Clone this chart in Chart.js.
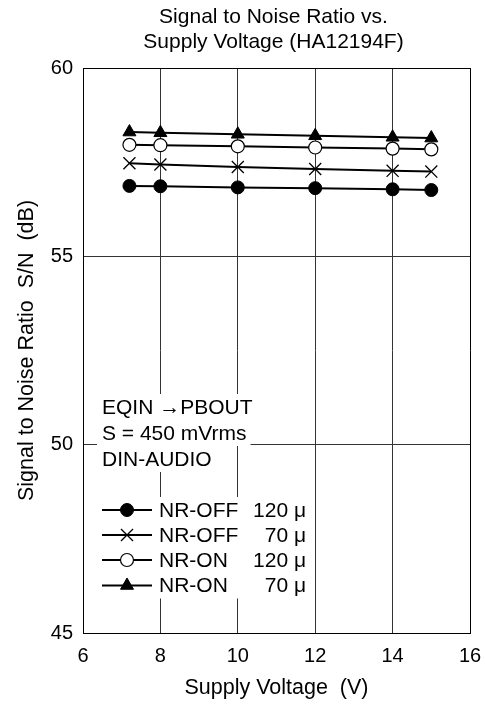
<!DOCTYPE html>
<html>
<head>
<meta charset="utf-8">
<script src="https://cdn.jsdelivr.net/npm/chart.js@4"></script>
<style>
  html, body { margin: 0; padding: 0; background: #fff; }
  #wrap { width: 485px; height: 704px; }
</style>
</head>
<body>
<div id="wrap"><canvas id="snChart" width="485" height="704"></canvas></div>
<script>
// supply voltage (V) at each measured point
const voltages = [7.2, 8, 10, 12, 14, 15];

// S/N (dB) per curve
const nrOff120 = [56.87, 56.86, 56.83, 56.81, 56.78, 56.76];
const nrOff70  = [57.47, 57.44, 57.37, 57.32, 57.27, 57.25];
const nrOn120  = [57.96, 57.95, 57.92, 57.89, 57.86, 57.84];
const nrOn70   = [58.30, 58.28, 58.24, 58.20, 58.16, 58.14];

const xTicks = [6, 8, 10, 12, 14, 16];
const yTicks = [45, 50, 55, 60];

const titleLines = ['Signal to Noise Ratio vs.', 'Supply Voltage (HA12194F)'];
const xTitle = 'Supply Voltage  (V)';
const yTitle = 'Signal to Noise Ratio  S/N  (dB)';
const noteLines = ['EQIN \u2192PBOUT', 'S = 450 mVrms', 'DIN-AUDIO'];
const legendNames = ['NR-OFF', 'NR-OFF', 'NR-ON', 'NR-ON'];
const legendTc = ['120 \u03bc', '70 \u03bc', '120 \u03bc', '70 \u03bc'];

const FONT = '"Liberation Sans", Arial, sans-serif';

function toPoints(ys) {
    return voltages.map((v, i) => ({ x: v, y: ys[i] }));
}

const markers = [
    { pointStyle: 'circle',   radius: 6.5, bg: '#000', border: '#000', bw: 1 },
    { pointStyle: 'crossRot', radius: 8.5, bg: '#fff', border: '#000', bw: 1.3 },
    { pointStyle: 'circle',   radius: 6.5, bg: '#fff', border: '#000', bw: 1.2 },
    { pointStyle: 'triangle', radius: 7.5, bg: '#000', border: '#000', bw: 1 }
];

const series = [nrOff120, nrOff70, nrOn120, nrOn70];

const datasets = series.map((ys, i) => ({
    label: legendNames[i] + ' ' + legendTc[i],
    data: toPoints(ys),
    borderColor: '#000',
    borderWidth: 2,
    pointStyle: markers[i].pointStyle,
    pointRadius: markers[i].radius,
    pointBackgroundColor: markers[i].bg,
    pointBorderColor: markers[i].border,
    pointBorderWidth: markers[i].bw,
    tension: 0
}));

// title centred over the plot frame, plus the note / legend box inside it
const textPlugin = {
    id: 'texts',
    afterDraw(chart) {
        const ctx = chart.ctx;
        ctx.save();
        ctx.fillStyle = '#000';
        ctx.font = '21px ' + FONT;
        ctx.textAlign = 'center';
        ctx.textBaseline = 'alphabetic';
        const cx = (chart.chartArea.left + chart.chartArea.right) / 2 - 3;
        ctx.fillText(titleLines[0], cx, 23);
        ctx.fillText(titleLines[1], cx, 48);
        ctx.restore();
    },
    afterDatasetsDraw(chart) {
        const ctx = chart.ctx;
        ctx.save();
        ctx.font = '21px ' + FONT;
        ctx.textBaseline = 'middle';

        // upper text block, each line on its own white strip
        const noteY = [407, 433, 459];
        noteLines.forEach((t, i) => {
            const w = ctx.measureText(t).width;
            ctx.fillStyle = '#fff';
            ctx.fillRect(97, noteY[i] - 13, w + 9, 26);
            ctx.fillStyle = '#000';
            ctx.textAlign = 'left';
            ctx.fillText(t, 102, noteY[i] + 1);
        });

        // legend block
        const rowY = [510, 535, 560, 585.5];
        ctx.fillStyle = '#fff';
        ctx.fillRect(97, rowY[0] - 13, 212, rowY[3] - rowY[0] + 26);
        rowY.forEach((y, i) => {
            ctx.strokeStyle = '#000';
            ctx.lineWidth = 2;
            ctx.beginPath();
            ctx.moveTo(102, y);
            ctx.lineTo(152, y);
            ctx.stroke();
            const m = markers[i];
            ctx.fillStyle = m.bg;
            ctx.strokeStyle = m.border;
            ctx.lineWidth = m.bw;
            Chart.helpers.drawPoint(ctx, { pointStyle: m.pointStyle, radius: m.radius, rotation: 0, borderWidth: m.bw }, 127, y);
            ctx.fillStyle = '#000';
            ctx.textAlign = 'left';
            ctx.fillText(legendNames[i], 159, y + 1);
            ctx.textAlign = 'right';
            ctx.fillText(legendTc[i], 306, y + 1);
        });
        ctx.restore();
    }
};

const edgeColor = (v, lo, hi) => (v === lo || v === hi) ? '#000' : '#333';

new Chart(document.getElementById('snChart'), {
    type: 'line',
    data: { datasets },
    plugins: [textPlugin],
    options: {
        responsive: false,
        animation: false,
        layout: { padding: { left: 0, right: 15, top: 68, bottom: 0 } },
        plugins: {
            legend: { display: false },
            tooltip: { enabled: false },
            title: { display: false }
        },
        scales: {
            x: {
                type: 'linear',
                min: 6,
                max: 16,
                afterBuildTicks: (s) => { s.ticks = xTicks.map(v => ({ value: v })); },
                afterFit: (s) => { s.height = 71; s.paddingLeft = 0; s.paddingRight = 0; },
                ticks: { color: '#000', padding: 11, font: { family: FONT, size: 20 } },
                grid: {
                    drawTicks: false,
                    lineWidth: 1,
                    color: (c) => edgeColor(c.tick && c.tick.value, 6, 16)
                },
                border: { color: '#000', width: 1 },
                title: {
                    display: true,
                    text: xTitle,
                    color: '#000',
                    font: { family: FONT, size: 21.5 },
                    padding: { top: 0, bottom: 3 }
                }
            },
            y: {
                type: 'linear',
                min: 45,
                max: 60,
                afterBuildTicks: (s) => { s.ticks = yTicks.map(v => ({ value: v })); },
                afterFit: (s) => { s.width = 83; s.paddingTop = 0; s.paddingBottom = 0; },
                ticks: { color: '#000', padding: 10, font: { family: FONT, size: 20 } },
                grid: {
                    drawTicks: false,
                    lineWidth: 1,
                    color: (c) => edgeColor(c.tick && c.tick.value, 45, 60)
                },
                border: { color: '#000', width: 1 },
                title: {
                    display: true,
                    text: yTitle,
                    color: '#000',
                    font: { family: FONT, size: 21.5 },
                    padding: { top: 14, bottom: 0 }
                }
            }
        }
    }
});
</script>
</body>
</html>
